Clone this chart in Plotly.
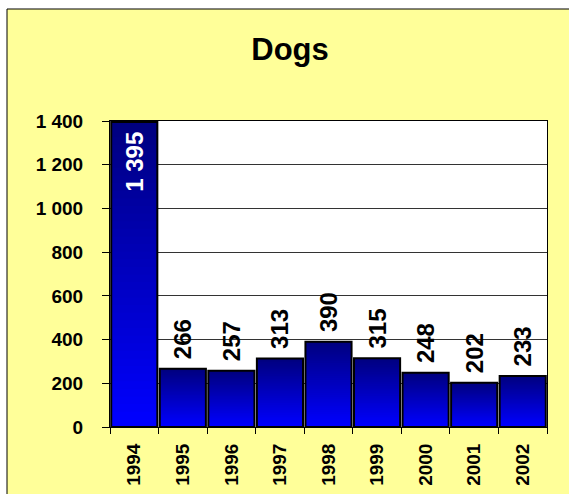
import plotly.graph_objects as go

# ---- data ----
years = ["1994", "1995", "1996", "1997", "1998", "1999", "2000", "2001", "2002"]
dogs = [1395, 266, 257, 313, 390, 315, 248, 202, 233]
y_ticks = [0, 200, 400, 600, 800, 1000, 1200, 1400]
title_text = "Dogs"

# ---- style ----
FONT = "Liberation Sans, Arial, sans-serif"
BOTTOM_RGB = (0, 0, 255)
TOP_RGB = (0, 0, 128)
N_SEG = 40

W, H = 569, 494
ML, MR, MT, MB = 110, 22, 121, 67
PW, PH = W - ML - MR, H - MT - MB


def px_to_paper_x(px):
    return (px - ML) / PW


def px_to_paper_y(py):
    return (H - MB - py) / PH


fig = go.Figure()

# gradient fill: overlapping bars from base to top, darker as they go up
for i in range(N_SEG):
    t = i / (N_SEG - 1)
    r = round(BOTTOM_RGB[0] + (TOP_RGB[0] - BOTTOM_RGB[0]) * t)
    g = round(BOTTOM_RGB[1] + (TOP_RGB[1] - BOTTOM_RGB[1]) * t)
    b = round(BOTTOM_RGB[2] + (TOP_RGB[2] - BOTTOM_RGB[2]) * t)
    bases = [v * i / N_SEG for v in dogs]
    heights = [v - bv for v, bv in zip(dogs, bases)]
    fig.add_trace(go.Bar(
        x=years, y=heights, base=bases,
        marker=dict(color=f"rgb({r},{g},{b})", line=dict(width=0)),
        hoverinfo="skip", showlegend=False,
    ))

# outline + labels
positions = ["inside" if v > 1000 else "outside" for v in dogs]
templates = ["%{y:,d}\u00a0" if p == "inside" else "\u00a0%{y:,d}" for p in positions]
colors = ["white" if p == "inside" else "black" for p in positions]
fig.add_trace(go.Bar(
    x=years, y=dogs,
    marker=dict(color="rgba(0,0,0,0)", line=dict(color="black", width=2)),
    texttemplate=templates,
    textposition=positions,
    insidetextanchor="end",
    textangle=-90,
    constraintext="none",
    textfont=dict(family=FONT, size=24, color=colors, weight="bold"),
    cliponaxis=False,
    hoverinfo="skip", showlegend=False,
))

fig.update_layout(
    width=W, height=H,
    margin=dict(l=ML, r=MR, t=MT, b=MB, pad=0, autoexpand=False),
    paper_bgcolor="white",
    plot_bgcolor="white",
    barmode="overlay",
    bargap=0.05,
    separators=", ",
    font=dict(family=FONT, color="black"),
    title=dict(
        text=title_text,
        font=dict(family=FONT, size=31, color="black", weight="bold"),
        x=290 / W, xref="container", xanchor="center",
        y=1 - 49 / H, yref="container", yanchor="middle",
        automargin=False,
    ),
    xaxis=dict(
        type="category",
        automargin=False,
        tickson="boundaries",
        ticks="outside", ticklen=6, tickcolor="black",
        tickangle=-90,
        tickfont=dict(family=FONT, size=19, color="black", weight="bold"),
        showline=True, linecolor="black", linewidth=1, mirror=True,
        showgrid=False,
        ticklabelstandoff=8,
    ),
    yaxis=dict(
        range=[0, 1400],
        automargin=False,
        tickvals=y_ticks,
        tickformat=",d",
        ticks="outside", ticklen=7, tickcolor="black",
        tickfont=dict(family=FONT, size=19, color="black", weight="bold"),
        showline=True, linecolor="black", linewidth=1, mirror=True,
        showgrid=True, gridcolor="#333333", gridwidth=1,
        zeroline=False,
        ticklabelstandoff=15,
    ),
    shapes=[
        dict(type="rect", xref="paper", yref="paper", layer="below",
             x0=px_to_paper_x(7), x1=px_to_paper_x(580),
             y0=px_to_paper_y(505), y1=px_to_paper_y(9),
             fillcolor="#FFFF99", line=dict(color="black", width=1)),
        dict(type="rect", xref="paper", yref="paper", layer="below",
             x0=0, x1=1, y0=0, y1=1,
             fillcolor="white", line=dict(width=0)),
    ],
)

fig.write_html(
    "out.html",
    config={"displayModeBar": False},
    post_script="document.body.style.margin='0';document.body.style.overflow='hidden';",
)
